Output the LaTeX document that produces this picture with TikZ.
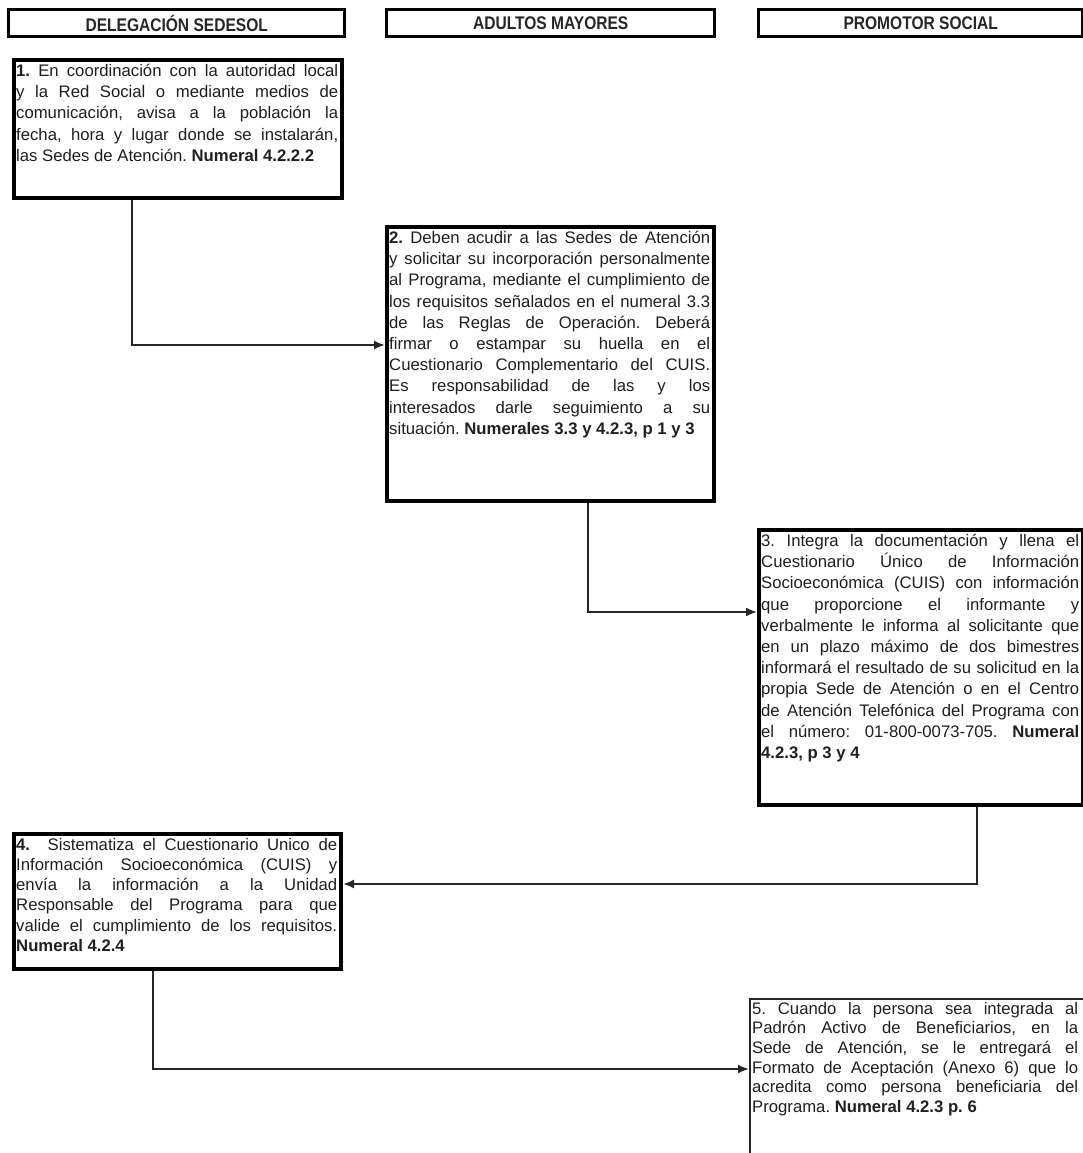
\documentclass[tikz,border=0pt]{standalone}
\usepackage{fontspec}
\setmainfont{Liberation Sans}
\newfontfamily\hdrfont[FakeStretch=0.85]{Liberation Sans}
\usetikzlibrary{arrows.meta,calc}
\newcommand\myBr{\linebreak}
\newcommand\lastLine[1]{\hbox to\linewidth{#1\hfil}}
\frenchspacing
\tikzset{
  hdr/.style={draw=black, line width=3.4pt, inner sep=0pt, anchor=north west,
    font=\hdrfont\bfseries\fontsize{18.3}{20}\selectfont, text=black!85},
  stepbox/.style={draw=black, line width=4pt, inner sep=0pt, anchor=north west},
  thinbox/.style={draw=black!85, line width=1.5pt, inner sep=0pt, anchor=north west},
  txt/.style={anchor=north west, inner sep=0pt, align=justify, text=black!88,
    font=\frenchspacing\fontsize{16.7}{21.2}\selectfont},
  conn/.style={draw=black!85, line width=2pt, -{Latex[length=11pt,width=9pt]}}
}
\begin{document}
\begin{tikzpicture}[x=1pt,y=-1pt]
\clip (0,0) rectangle (1083,1153);
\fill[white] (0,0) rectangle (1083,1153);

% headers
\node[hdr, minimum width=336pt, minimum height=27pt] (h1) at (7,8) {DELEGACIÓN SEDESOL};
\node[hdr, minimum width=328pt, minimum height=27pt] (h2) at (385,8) {ADULTOS MAYORES};
\node[hdr, minimum width=324pt, minimum height=27pt] (h3) at (757,8) {PROMOTOR SOCIAL};

% boxes
\node[stepbox, minimum width=328pt, minimum height=138pt] (b1) at (12,58) {};
\node[stepbox, minimum width=327pt, minimum height=274pt] (b2) at (385,225) {};
\node[stepbox, minimum width=324pt, minimum height=275pt] (b3) at (757,528) {};
\node[stepbox, minimum width=327pt, minimum height=135pt] (b4) at (12,832) {};
\node[thinbox, minimum width=346pt, minimum height=180pt] (b5) at (749,998) {};

% texts
\node[txt, text width=322pt] (t1) at ($(b1.north west)+(4,6)$) {%
\textbf{1.} En coordinación con la autoridad local\myBr
y la Red Social o mediante medios de\myBr
comunicación, avisa a la población la\myBr
fecha, hora y lugar donde se instalarán,\myBr
\lastLine{las Sedes de Atención. \textbf{Numeral 4.2.2.2}}};

\node[txt, text width=321pt] (t2) at ($(b2.north west)+(4,6)$) {%
\textbf{2.} Deben acudir a las Sedes de Atención\myBr
y solicitar su incorporación personalmente\myBr
al Programa, mediante el cumplimiento de\myBr
los requisitos señalados en el numeral 3.3\myBr
de las Reglas de Operación. Deberá\myBr
firmar o estampar su huella en el\myBr
Cuestionario Complementario del CUIS.\myBr
Es responsabilidad de las y los\myBr
interesados darle seguimiento a su\myBr
\lastLine{situación. \textbf{Numerales 3.3 y 4.2.3, p 1 y 3}}};

\node[txt, text width=318pt] (t3) at ($(b3.north west)+(4,6)$) {%
3. Integra la documentación y llena el\myBr
Cuestionario Único de Información\myBr
Socioeconómica (CUIS) con información\myBr
que proporcione el informante y\myBr
verbalmente le informa al solicitante que\myBr
en un plazo máximo de dos bimestres\myBr
informará el resultado de su solicitud en la\myBr
propia Sede de Atención o en el Centro\myBr
de Atención Telefónica del Programa con\myBr
el número: 01-800-0073-705. \textbf{Numeral}\myBr
\lastLine{\textbf{4.2.3, p 3 y 4}}};

\node[txt, text width=321pt, font=\frenchspacing\fontsize{16.7}{20.2}\selectfont] (t4) at ($(b4.north west)+(4,6)$) {%
\textbf{4.}\ \ Sistematiza el Cuestionario Unico de\myBr
Información Socioeconómica (CUIS) y\myBr
envía la información a la Unidad\myBr
Responsable del Programa para que\myBr
valide el cumplimiento de los requisitos.\myBr
\lastLine{\textbf{Numeral 4.2.4}}};

\node[txt, text width=326pt, font=\frenchspacing\fontsize{16.7}{19.6}\selectfont] (t5) at ($(b5.north west)+(3,4)$) {%
5. Cuando la persona sea integrada al\myBr
Padrón Activo de Beneficiarios, en la\myBr
Sede de Atención, se le entregará el\myBr
Formato de Aceptación (Anexo 6) que lo\myBr
acredita como persona beneficiaria del\myBr
\lastLine{Programa. \textbf{Numeral 4.2.3 p. 6}}};

% connectors
\draw[conn] ($(b1.south west)+(120,0)$) |- ($(b2.north west)+(0,120)$);
\draw[conn] ($(b2.south west)+(203,0)$) |- ($(b3.north west)+(0,84)$);
\draw[conn] ($(b3.south west)+(220,0)$) |- ($(b4.north east)+(0,52)$);
\draw[conn] ($(b4.south west)+(141,0)$) |- ($(b5.north west)+(0,71)$);
\end{tikzpicture}
\end{document}
